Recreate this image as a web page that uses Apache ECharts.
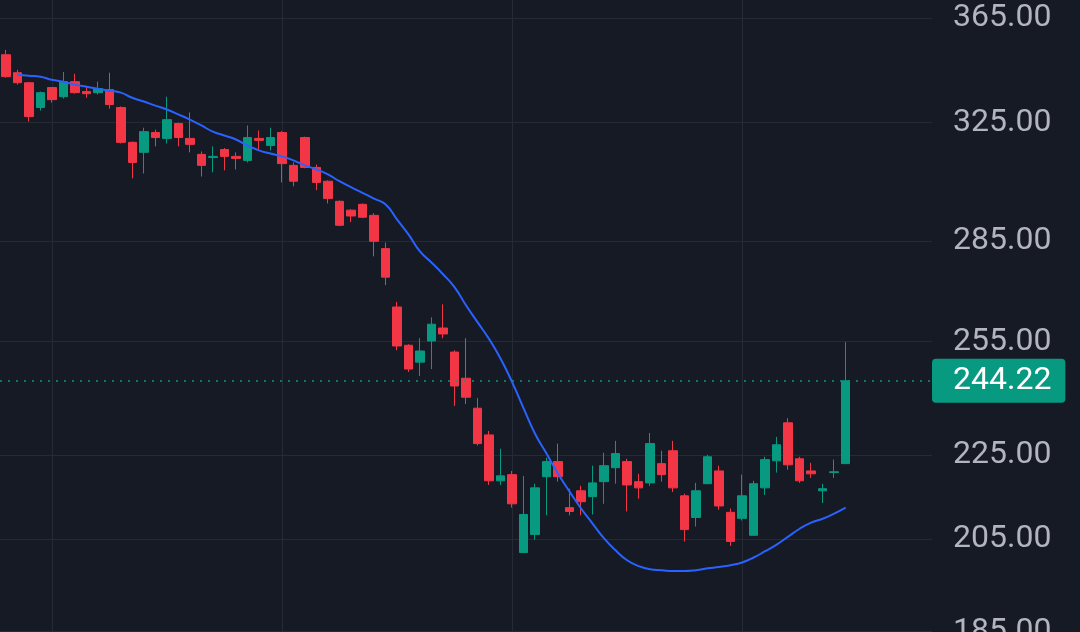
<!DOCTYPE html>
<html>
  <head>
    <meta charset="utf-8">
    <title>candles</title>
    <script src="https://cdn.jsdelivr.net/npm/echarts@6/dist/echarts.min.js"></script>
    <style>
      html, body { margin: 0; padding: 0; background: #161a25; overflow: hidden; }
      #main { width: 1080px; height: 632px; }
    </style>
  </head>
  <body>
    <div id="main"></div>
    <script type="text/javascript">
      // [open, close, low, high]
      var candles = [
        [350.4, 342.0, 341.6, 352.3], [343.5, 339.7, 339.0, 344.6], [339.7, 327.2, 325.4, 340.0],
        [330.5, 336.0, 329.4, 336.4], [337.9, 333.4, 332.3, 338.0], [334.5, 340.1, 333.8, 343.8],
        [340.1, 336.0, 335.6, 343.1], [336.4, 335.6, 334.1, 338.6], [336.0, 337.5, 335.3, 340.1],
        [337.1, 331.6, 330.1, 343.5], [330.5, 318.0, 317.6, 330.9], [318.0, 311.0, 305.6, 318.3],
        [314.5, 321.8, 307.2, 323.2], [321.5, 319.7, 316.6, 322.5], [319.4, 326.1, 317.6, 334.5],
        [324.7, 319.7, 316.6, 325.0], [319.4, 317.3, 314.5, 328.7], [313.8, 310.0, 306.2, 314.8],
        [312.7, 313.1, 307.6, 316.6], [315.5, 313.1, 308.3, 316.0], [313.1, 312.4, 308.6, 314.5],
        [311.7, 319.7, 311.0, 324.0], [319.4, 318.7, 315.2, 322.2], [316.9, 319.7, 315.2, 323.2],
        [321.5, 310.6, 304.2, 322.0], [310.0, 304.6, 302.9, 311.0], [319.7, 309.3, 309.0, 320.0],
        [309.3, 304.2, 301.6, 310.3], [304.6, 298.8, 297.2, 304.9], [297.9, 290.1, 289.8, 298.2],
        [295.0, 293.1, 291.1, 295.3], [296.9, 292.7, 292.4, 297.2], [293.3, 285.0, 280.3, 294.0],
        [282.7, 273.9, 271.5, 284.6], [265.0, 253.8, 252.6, 266.5], [254.0, 247.4, 246.6, 254.3],
        [249.3, 252.4, 245.5, 256.0], [255.2, 260.0, 247.4, 262.0], [258.9, 257.2, 256.0, 265.8],
        [252.1, 242.8, 237.5, 252.6], [244.9, 239.8, 238.0, 256.0], [236.9, 227.8, 227.3, 239.6],
        [230.0, 218.6, 217.6, 231.0], [218.6, 219.8, 217.6, 226.5], [220.1, 213.1, 212.2, 221.0],
        [201.9, 210.6, 201.9, 219.8], [206.0, 216.9, 204.8, 217.9], [219.6, 223.3, 210.4, 224.3],
        [223.3, 219.6, 218.4, 227.8], [212.2, 211.3, 210.4, 216.7], [216.2, 213.6, 210.4, 217.4],
        [214.8, 218.1, 210.6, 222.3], [218.4, 222.3, 213.1, 225.5], [221.8, 225.3, 217.9, 228.5],
        [223.3, 217.6, 211.3, 224.0], [218.4, 216.9, 214.3, 220.3], [218.1, 227.8, 217.4, 230.5],
        [222.8, 220.1, 218.4, 226.0], [226.0, 216.9, 215.9, 228.5], [215.0, 207.1, 204.4, 215.5],
        [209.9, 216.2, 207.8, 218.1], [217.9, 224.5, 217.9, 225.0], [221.0, 212.6, 211.7, 222.3],
        [211.1, 204.4, 203.4, 212.0], [209.7, 215.0, 209.2, 220.1], [205.8, 217.9, 205.8, 218.6],
        [216.9, 223.8, 215.2, 224.5], [223.5, 227.5, 220.6, 229.5], [233.1, 222.5, 221.3, 234.3],
        [224.0, 218.6, 218.1, 224.5], [221.0, 220.3, 219.3, 223.0], [216.2, 216.7, 213.3, 217.9],
        [220.6, 220.8, 219.3, 223.8], [222.8, 244.22, 222.8, 254.9]
      ];
      var maLine = [
        '-', 342.7, 342.3, 342.0, 340.8, 340.1, 339.0, 338.2, 337.5, 336.7,
        336.0, 334.1, 332.7, 331.2, 329.8, 328.0, 326.1, 324.0, 321.8, 320.4,
        319.0, 316.9, 315.2, 314.1, 313.1, 311.7, 310.0, 308.6, 306.9, 304.6,
        302.6, 300.7, 298.8, 296.9, 292.0, 287.2, 281.8, 278.4, 274.8, 270.9,
        265.5, 260.6, 255.8, 250.3, 243.9, 236.9, 230.3, 225.3, 220.3, 216.0,
        212.0, 208.5, 205.1, 202.4, 200.2, 198.9, 198.2, 198.0, 197.8, 197.8,
        198.0, 198.4, 198.7, 199.1, 199.7, 200.8, 202.2, 203.7, 205.5, 207.3,
        208.7, 209.6, 210.8, 212.2
      ];
      var priceTicks = [365, 325, 285, 255, 225, 205, 185];
      var vGridIdx = [4, 24, 44, 64];
      var lastPrice = 244.22;
      var slots = 81;

      var cats = [];
      for (var i = 0; i < slots; i++) cats.push(i);

      var gridCol = '#262a35';
      var tickLines = priceTicks.map(function (v) {
        return { yAxis: v, label: { formatter: v.toFixed(2) } };
      });
      vGridIdx.forEach(function (k) {
        tickLines.push({ xAxis: k, label: { show: false } });
      });

      var myChart = echarts.init(document.getElementById('main'));
      var option = {
        backgroundColor: '#161a25',
        animation: false,
        grid: { left: -3, right: 148, top: 0, bottom: 0 },
        xAxis: {
          type: 'category',
          data: cats,
          boundaryGap: true,
          axisLine: { show: false },
          axisTick: { show: false },
          axisLabel: { show: false },
          splitLine: { show: false }
        },
        yAxis: {
          type: 'log',
          logBase: Math.E,
          min: 184.9,
          max: 372.3,
          axisLine: { show: false },
          axisTick: { show: false },
          axisLabel: { show: false },
          splitLine: { show: false }
        },
        series: [
          {
            type: 'candlestick',
            data: candles,
            barWidth: 9,
            itemStyle: {
              color: '#089981', color0: '#f23645',
              borderColor: '#089981', borderColor0: '#f23645',
              borderWidth: 1
            },
            markLine: {
              silent: true,
              symbol: 'none',
              lineStyle: { color: gridCol, width: 1, type: 'solid' },
              label: {
                position: 'end', distance: 21,
                color: '#b2b5be', fontSize: 32, fontFamily: 'Roboto'
              },
              data: tickLines,
              z: 0
            }
          },
          {
            type: 'line',
            data: maLine,
            showSymbol: false,
            smooth: true,
            lineStyle: { color: '#2962ff', width: 2 },
            markLine: {
              silent: true,
              symbol: 'none',
              lineStyle: { color: '#089981', width: 1.5, type: [2, 6] },
              label: {
                position: 'end', distance: 0,
                color: '#ffffff', fontSize: 32, fontFamily: 'Roboto',
                backgroundColor: '#089981', borderRadius: 4,
                padding: [6, 14, 6, 21],
                formatter: lastPrice.toFixed(2)
              },
              data: [{ yAxis: lastPrice }]
            }
          }
        ]
      };
      myChart.setOption(option);
    </script>
  </body>
</html>
